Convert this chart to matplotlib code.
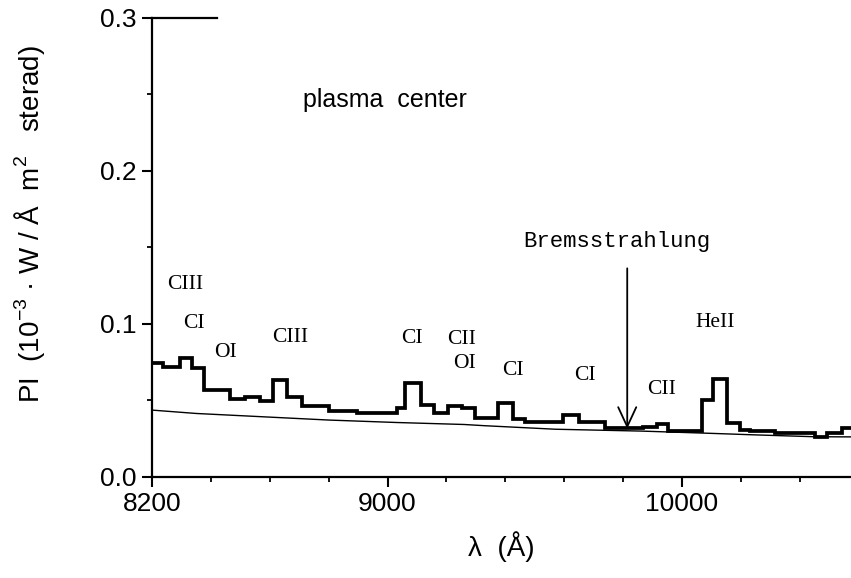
import numpy as np
import matplotlib.pyplot as plt

plt.rcParams['font.family'] = ['Liberation Sans', 'DejaVu Sans']
plt.rcParams['mathtext.fontset'] = 'custom'
plt.rcParams['mathtext.rm'] = 'Liberation Sans'

# measured spectrum (histogram bins, Angstrom) and radiance
edges = [8200, 8238, 8295, 8335, 8377, 8465, 8516, 8567, 8610, 8658,
         8708, 8802, 8895, 9031, 9059, 9113, 9158, 9206, 9252, 9297,
         9376, 9427, 9467, 9597, 9651, 9739, 9869, 9914, 9954, 10067,
         10107, 10152, 10197, 10231, 10316, 10452, 10492, 10543, 10575]
radiance = [0.0744, 0.0716, 0.0780, 0.0710, 0.0567, 0.0509, 0.0524, 0.0498, 0.0633, 0.0524,
            0.0465, 0.0430, 0.0415, 0.0448, 0.0611, 0.0470, 0.0415, 0.0465, 0.0448, 0.0388,
            0.0485, 0.0376, 0.0356, 0.0404, 0.0361, 0.0318, 0.0328, 0.0343, 0.0302, 0.0502,
            0.0637, 0.0350, 0.0310, 0.0300, 0.0285, 0.0260, 0.0285, 0.0318]

# bremsstrahlung continuum
lam_brems = [8200, 8350, 8580, 8800, 9030, 9260, 9330, 9570, 9860, 10100, 10250, 10450, 10575]
brems = [0.0437, 0.0415, 0.0393, 0.0372, 0.0356, 0.0343, 0.0335, 0.0312, 0.0300, 0.0285, 0.0275, 0.0263, 0.0262]

# line identifications
line_names = ['CIII', 'CI', 'OI', 'CIII', 'CI', 'CII', 'OI', 'CI', 'CI', 'CII', 'HeII']
line_lam = [8312, 8343, 8451, 8669, 9083, 9253, 9260, 9426, 9671, 9932, 10112]
line_y = [0.1259, 0.1005, 0.0815, 0.0913, 0.0907, 0.0900, 0.0744, 0.0698, 0.0665, 0.0574, 0.1011]

fig = plt.figure(figsize=(8.51, 5.78), dpi=100)
ax = fig.add_axes([152 / 851, 101 / 578, 699 / 851, 459.3 / 578])

ax.stairs(radiance, edges, baseline=None, color='black', lw=2.7)
ax.plot(lam_brems, brems, color='black', lw=1.0)

for name, lx, ly in zip(line_names, line_lam, line_y):
    ax.text(lx, ly, name, family='Liberation Serif', fontsize=15.5,
            ha='center', va='center')

ax.text(8713, 0.246, 'plasma  center', fontsize=18, ha='left', va='center')
ax.text(9779, 0.154, 'Bremsstrahlung', family='Liberation Mono', fontsize=16,
        ha='center', va='center')
ax.annotate('', xy=(9814, 0.0315), xytext=(9814, 0.1363),
            arrowprops=dict(arrowstyle='->,head_length=1.4,head_width=0.65',
                            mutation_scale=10, color='black', lw=1.3,
                            shrinkA=0, shrinkB=0))

ax.set_xlim(8200, 10574)
ax.set_ylim(0, 0.3)
ax.set_xticks([8200, 9000, 10000])
ax.set_xticklabels(['8200', '9000', '10000'])
ax.set_xticks(np.arange(8400, 10600, 200), minor=True)
ax.set_yticks([0.0, 0.1, 0.2, 0.3])
ax.set_yticklabels(['0.0', '0.1', '0.2', '0.3'])
ax.set_yticks([0.05, 0.15, 0.25], minor=True)

ax.tick_params(which='major', direction='out', length=7, width=1.5, labelsize=19, pad=4)
ax.tick_params(which='minor', direction='out', length=3.5, width=1.3)

ax.spines['right'].set_visible(False)
ax.spines['top'].set_bounds(8200, 8420)
for s in ['left', 'bottom', 'top']:
    ax.spines[s].set_linewidth(1.6)

ax.set_xlabel('λ  (Å)', fontsize=20, labelpad=11)
ax.set_ylabel('PI  (10$^{\\mathregular{-3}}$ · W / Å  m$^{\\mathregular{2}}$   sterad)', fontsize=20)
ax.yaxis.set_label_coords(-0.15, 0.55)

fig.savefig('out.png', dpi=100)
